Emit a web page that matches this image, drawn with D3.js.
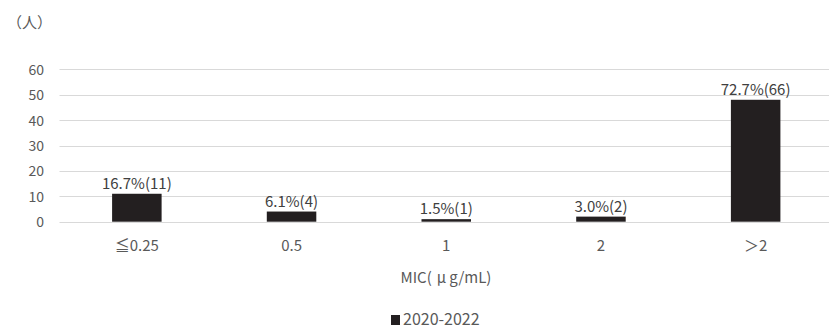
<!DOCTYPE html>
<html><head><meta charset="utf-8">
<script src="https://cdn.jsdelivr.net/npm/d3@7"></script>
<style>body{margin:0;background:#fff}svg{display:block}text{font-family:"Noto Sans CJK JP","Noto Sans",sans-serif}</style>
</head><body>
<script>
const categories = ["≦0.25", "0.5", "1", "2", "＞2"];
const counts = [11, 4, 1, 2, 48];
const labels = ["16.7%(11)", "6.1%(4)", "1.5%(1)", "3.0%(2)", "72.7%(66)"];
const yTicks = [0, 10, 20, 30, 40, 50, 60];
const seriesName = "2020-2022";

const W = 829, H = 328;
const svg = d3.select("body").append("svg").attr("width", W).attr("height", H);
const x = d3.scaleBand().domain(categories).range([59.5, 833]).paddingInner(0.68).paddingOuter(0.34);
const y = d3.scaleLinear().domain([0, 60]).range([221.7, 69.3]);

// gridlines
svg.append("g").selectAll("line").data(yTicks).join("line")
  .attr("x1", 59.5).attr("x2", W).attr("y1", d => Math.round(y(d)) + 0.5).attr("y2", d => Math.round(y(d)) + 0.5)
  .attr("stroke", "#d9d9d9").attr("stroke-width", 1);

// y axis labels
const yAxis = d3.axisLeft(y).tickValues(yTicks).tickSize(0).tickPadding(0);
const gy = svg.append("g").attr("transform", "translate(44,0)").call(yAxis);
gy.select(".domain").remove();
gy.selectAll("text").attr("fill", "#595959").style("font-size", "14px").attr("dy", "0.35em");

// x axis labels
const xAxis = d3.axisBottom(x).tickSize(0).tickPadding(0);
const gx = svg.append("g").attr("transform", "translate(0,251)").call(xAxis);
gx.select(".domain").remove();
gx.selectAll("text").attr("fill", "#595959").style("font-size", "15px").attr("y", 0).attr("dy", "0");

// bars
svg.append("g").selectAll("rect").data(categories).join("rect")
  .attr("x", d => x(d)).attr("width", x.bandwidth())
  .attr("y", (d, i) => y(counts[i])).attr("height", (d, i) => y(0) - y(counts[i]))
  .attr("fill", "#231f20");

// data labels
svg.append("g").selectAll("text").data(categories).join("text")
  .attr("x", d => x(d) + x.bandwidth() / 2)
  .attr("y", (d, i) => y(counts[i]) - 5)
  .attr("text-anchor", "middle").attr("fill", "#404040").style("font-size", "15px")
  .text((d, i) => labels[i]);

// y unit
svg.append("text").attr("x", 7).attr("y", 28).attr("fill", "#595959").style("font-size", "15px").text("（人）");

// x title
const t = svg.append("text").attr("x", 446).attr("y", 283).attr("text-anchor", "middle").attr("fill", "#595959").style("font-size", "15px");
t.append("tspan").text("MIC(");
t.append("tspan").attr("dx", 5).text("μ");
t.append("tspan").attr("dx", 3).text("g/mL)");

// legend
svg.append("rect").attr("x", 391).attr("y", 315).attr("width", 9).attr("height", 10).attr("fill", "#231f20");
svg.append("text").attr("x", 403).attr("y", 325).attr("fill", "#595959").style("font-size", "16px").text(seriesName);
</script>
</body></html>
